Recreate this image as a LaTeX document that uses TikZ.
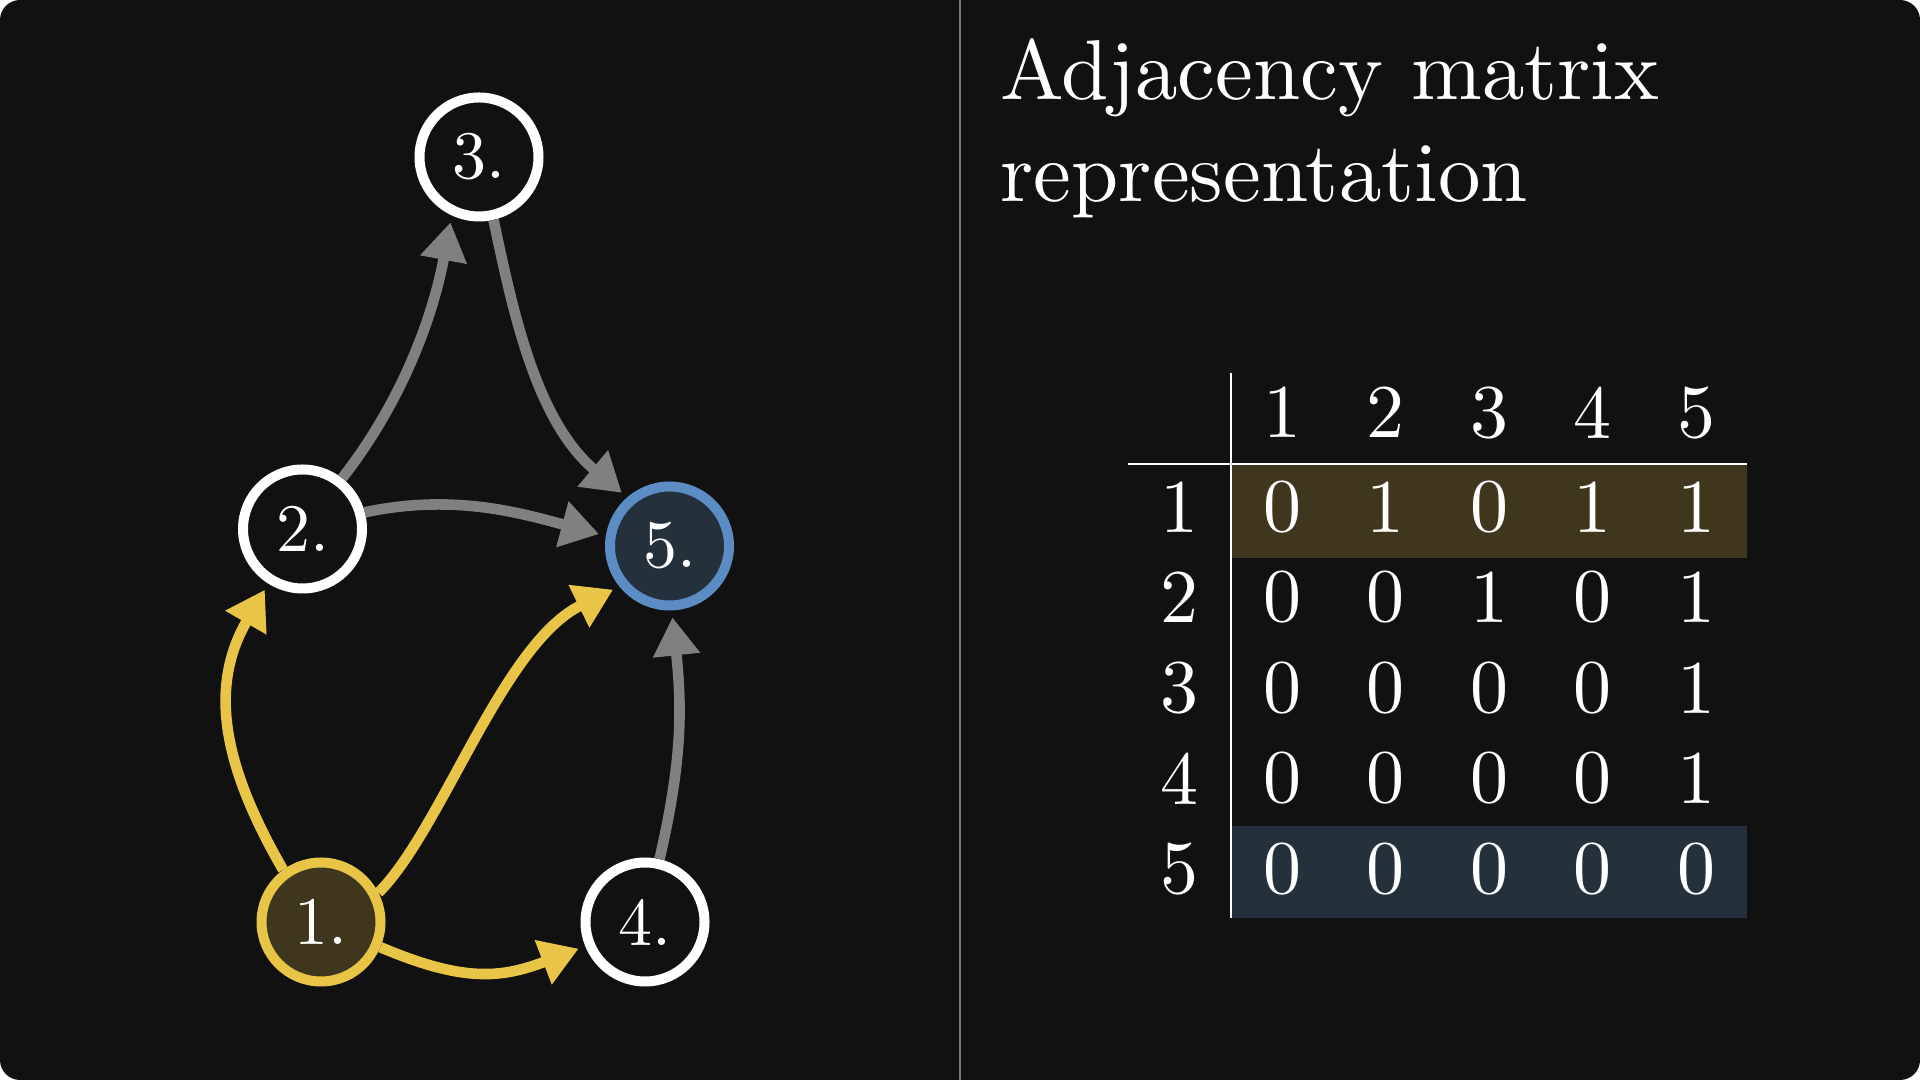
\documentclass[tikz,border=0pt]{standalone}
\usepackage{fontspec}
\newfontfamily\lmten{lmroman10-regular.otf}
\usetikzlibrary{arrows.meta}
\definecolor{bg}{HTML}{111111}
\definecolor{edgegray}{HTML}{808080}
\definecolor{hlyellow}{HTML}{E8C547}
\definecolor{hlblue}{HTML}{5B8DC4}
\definecolor{fillyellow}{HTML}{3E371D}
\definecolor{fillblue}{HTML}{25303D}
\definecolor{divgray}{HTML}{7A7A7A}
\begin{document}
\begin{tikzpicture}[x=0.5pt,y=0.5pt,
  vertex/.style={circle, line width=5pt, minimum size=59.5pt, inner sep=0pt,
    text=white, font=\lmten\fontsize{34}{40}\selectfont},
  plainv/.style={vertex, draw=white, fill=bg},
  edgebase/.style={line width=5.3pt, -{Triangle[length=19pt,width=22.5pt]}, shorten >=3.5pt},
  grayedge/.style={edgebase, draw=edgegray},
  yeledge/.style={edgebase, draw=hlyellow},
  cell/.style={text=white, font=\lmten\fontsize{38}{44}\selectfont, inner sep=0pt},
  titletext/.style={text=white, font=\lmten\fontsize{42.5}{50}\selectfont, inner sep=0pt, anchor=base west},
  rule/.style={white, line width=1.2pt}]
\useasboundingbox (0,0) rectangle (1920,1080);
\fill[bg, rounded corners=10pt] (0,0) rectangle (1920,1080);
\draw[divgray, line width=1.2pt] (960,0) -- (960,1080);

% graph
\node[plainv] (n3) at (479,923) {3.};
\node[plainv] (n2) at (302.5,551) {2.};
\node[vertex, draw=hlblue, fill=fillblue] (n5) at (669.5,534) {5.};
\node[vertex, draw=hlyellow, fill=fillyellow] (n1) at (321,158) {1.};
\node[plainv] (n4) at (645,158) {4.};

\draw[grayedge] (n2.52) .. controls +(52:100) and +(-100.5:100) .. (n3.-115);
\draw[grayedge] (n3.-77) .. controls +(-78:90) and +(140:120) .. (n5.131.4);
\draw[grayedge] (n2.15) .. controls +(12:90) and +(165:90) .. (n5.171.4);
\draw[grayedge] (n4.77) .. controls +(77:100) and +(-84:100) .. (n5.-88);
\draw[yeledge] (n1.126.5) .. controls +(120:120) and +(-120:120) .. (n2.-122);
\draw[yeledge] (n1.27) .. controls +(45:90) and +(-154:130) .. (n5.-141.2);
\draw[yeledge] (n1.-23) .. controls +(-23:90) and +(-159:90) .. (n4.-158);

% title
\node[titletext] (t1) at (1000,980) {Adjacency matrix};
\node[titletext] (t2) at (1000,878) {representation};

% matrix
\fill[fillyellow] (1232,522) rectangle (1747,615);
\fill[fillblue] (1232,162) rectangle (1747,253.5);
\draw[rule] (1231,162) -- (1231,707);
\draw[rule] (1128,616) -- (1747,616);

\foreach \c [count=\i] in {1282,1385.5,1489,1592.5,1696}
  \node[cell] (h\i) at (\c,667.4) {\i};
\foreach \r/\y in {1/573,2/482.5,3/392,4/301.5,5/211}
  \node[cell] (r\r) at (1179,\y) {\r};

\foreach \r/\y/\vals in {1/573/{0,1,0,1,1},2/482.5/{0,0,1,0,1},3/392/{0,0,0,0,1},4/301.5/{0,0,0,0,1},5/211/{0,0,0,0,0}}{
  \foreach \v [count=\j] in \vals {
    \pgfmathsetmacro{\cx}{1282+(\j-1)*103.5}
    \node[cell] (m\r\j) at (\cx,\y) {\v};
  }
}
\end{tikzpicture}
\end{document}
